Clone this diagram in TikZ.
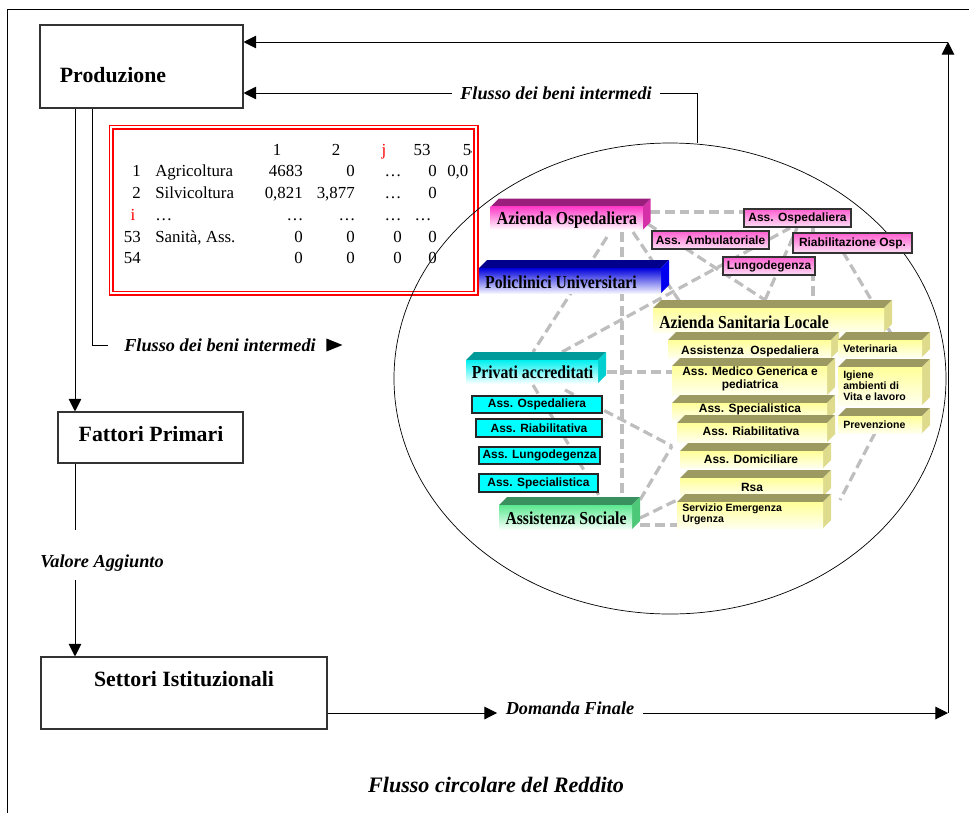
\documentclass[tikz,border=0pt]{standalone}
\usepackage{fontspec}
\setmainfont{Liberation Serif}
\newfontfamily\wafont[FakeStretch=0.86]{Liberation Serif}
\newfontfamily\arialfont{Liberation Sans}
\usetikzlibrary{arrows.meta,shapes.geometric}

\definecolor{magtop}{HTML}{9A1E7C}
\definecolor{magfront}{HTML}{FF3CC8}
\definecolor{maglow}{HTML}{FFFFFF}
\definecolor{magside}{HTML}{D630A8}
\definecolor{blutop}{HTML}{00008C}
\definecolor{blufront}{HTML}{0000DC}
\definecolor{blulow}{HTML}{F2F2FF}
\definecolor{bluside}{HTML}{0000F0}
\definecolor{giatop}{HTML}{9C9A60}
\definecolor{giafront}{HTML}{FFFF99}
\definecolor{gialow}{HTML}{FFFFEE}
\definecolor{giaside}{HTML}{DEDC8C}
\definecolor{ciatop}{HTML}{009A9A}
\definecolor{ciafront}{HTML}{00F0F0}
\definecolor{cialow}{HTML}{F4FFFF}
\definecolor{ciaside}{HTML}{00D0D0}
\definecolor{vertop}{HTML}{3A9160}
\definecolor{verfront}{HTML}{5CE890}
\definecolor{verlow}{HTML}{F4FFF8}
\definecolor{verside}{HTML}{4CC878}
\definecolor{rosa}{HTML}{FF5FD0}
\definecolor{rosachiaro}{HTML}{FFE0F5}
\definecolor{ciano}{HTML}{00FFFF}
\definecolor{grigiorete}{HTML}{BEBEBE}

% blocco in rilievo: colori, nome, angolo alto-sinistra, angolo basso-destra
\newcommand{\blocco}[6]{%
  \fill[#1top] (#3,#4) -- ++(8,-8) -- ({#5+8},{#4-8}) -- (#5,#4) -- cycle;
  \fill[#1side] (#5,#4) -- ({#5+8},{#4-8}) -- ({#5+8},{#6-8}) -- (#5,#6) -- cycle;
  \shade[top color=#1front, bottom color=#1low] (#3,#4) rectangle (#5,#6);
  \coordinate (#2) at ({(#3+#5)/2},{(#4+#6)/2});
}

\tikzset{
  riquadro/.style={draw=black!80, line width=0.75pt, inner sep=0pt},
  filo/.style={line width=0.7pt},
  freccia/.style={line width=0.7pt, -{Triangle[length=9pt,width=9pt]}},
  flusso/.style={font=\fontsize{13}{15}\selectfont\bfseries\itshape, inner sep=6pt},
  titolo/.style={font=\fontsize{15.5}{18}\selectfont\bfseries},
  rete/.style={draw=grigiorete, line width=2.3pt, dash pattern=on 7pt off 3.5pt},
  scritta3d/.style={font=\wafont\fontsize{13}{15}\selectfont\bfseries, anchor=base, inner sep=0pt},
  etichetta/.style={font=\arialfont\fontsize{8.5}{9.2}\selectfont\bfseries, inner sep=0pt},
  piccola/.style={font=\arialfont\fontsize{7.5}{7.8}\selectfont\bfseries, inner sep=0pt, align=left},
  tastorosa/.style={draw=black!80, line width=1.1pt, top color=rosa, bottom color=rosachiaro,
    inner sep=0pt, font=\arialfont\fontsize{8.5}{10}\selectfont\bfseries},
  tastociano/.style={draw=black!85, line width=1.1pt, fill=ciano,
    inner sep=0pt, font=\arialfont\fontsize{8.5}{10}\selectfont\bfseries},
  cella/.style={inner sep=0pt, font=\fontsize{12}{14}\selectfont},
}

\begin{document}
\begin{tikzpicture}[x=0.025cm, y=-0.025cm]
  \useasboundingbox (0,0) rectangle (969,812);
  \draw[filo] (7,830) -- (7,9) -- (990,9);

  % tabella input-output
  \draw[red, line width=1pt] (109.5,125.5) rectangle (478,295);
  \draw[red, line width=1pt] (113,129) rectangle (474,291.5);
  \begin{scope}
    \clip (113,129) rectangle (471.5,291.5);
    \foreach \x/\t [count=\k] in {277/1,336/2,422/53}
      \node[cella, anchor=base] (int\k) at (\x,155.5) {\t};
    \node[cella, anchor=base west] (int4) at (462.5,155.5) {54};
    \node[cella, anchor=base, text=red] (intj) at (384,155.5) {j};
    \foreach \y/\n/\s [count=\k] in {176.5/1/Agricoltura, 198/2/Silvicoltura, 242/53/{Sanità, Ass.}, 263.5/54/{}} {
      \node[cella, anchor=base east] (num\k) at (141,\y) {\n};
      \node[cella, anchor=base west] (voce\k) at (155,\y) {\s};
    }
    \node[cella, anchor=base, text=red] (rigai) at (133,220) {i};
    \node[cella, anchor=base west] (vocei) at (155,220) {…};
    \foreach \y/\a/\b/\d [count=\k] in {176.5/4683/0/0, 198/{0,821}/{3,877}/0, 242/0/0/0, 263.5/0/0/0} {
      \node[cella, anchor=base east] (ca\k) at (303,\y) {\a};
      \node[cella, anchor=base east] (cb\k) at (355,\y) {\b};
      \node[cella, anchor=base east] (cd\k) at (437,\y) {\d};
    }
    \foreach \y [count=\k] in {176.5,198}
      \node[cella, anchor=base] (cj\k) at (393,\y) {…};
    \foreach \y [count=\k] in {242,263.5}
      \node[cella, anchor=base east] (cz\k) at (402,\y) {0};
    \foreach \x [count=\k] in {295,347,393,423}
      \node[cella, anchor=base] (pun\k) at (\x,220) {…};
    \node[cella, anchor=base west] (coda) at (447,176.5) {0,0};
  \end{scope}

  % ellisse della sanita
  \node[draw, ellipse, line width=0.5pt, inner sep=0pt, minimum width=552*0.025cm,
    minimum height=471*0.025cm] (mercato) at (670,378.5) {};

  % circuito del reddito
  \node[riquadro, minimum width=203*0.025cm, minimum height=83*0.025cm] (prod) at (141.5,66.5) {};
  \node[titolo] (prodtxt) at (113,75) {Produzione};
  \node[riquadro, minimum width=185*0.025cm, minimum height=51*0.025cm] (fatt) at (150.5,437.5) {};
  \node[titolo] (fatttxt) at (151,434) {Fattori Primari};
  \node[riquadro, minimum width=286*0.025cm, minimum height=72*0.025cm] (sett) at (184,693) {};
  \node[titolo] (setttxt) at (184,679) {Settori Istituzionali};

  \coordinate (asse) at (75,300);
  \coordinate (ramo) at (92,345);
  \coordinate (va1) at (75,530);
  \coordinate (va2) at (75,580);
  \coordinate (nord) at (948,42);
  \coordinate (sud) at (948,713);
  \coordinate (presa) at (697,93);

  \node[flusso] (fbi1) at (556,93) {Flusso dei beni intermedi};
  \draw[freccia] (fbi1.west) -- (fbi1.west -| prod.east);
  \draw[filo] (fbi1.east) -- (presa) -- (presa |- mercato.north);

  \draw[freccia] (asse |- prod.south) -- (asse |- fatt.north);
  \draw[filo] (ramo |- prod.south) -- (ramo) -- ++(16,0);
  \node[flusso] (fbi2) at (220,345) {Flusso dei beni intermedi};
  \fill ([shift={(2,-6.5)}]fbi2.east) -- ([shift={(18,0)}]fbi2.east) -- ([shift={(2,6.5)}]fbi2.east) -- cycle;

  \draw[filo] (asse |- fatt.south) -- (va1);
  \node[flusso] (valore) at (102,563) {Valore Aggiunto};
  \draw[freccia] (va2) -- (asse |- sett.north);

  \node[flusso] (domanda) at (570,708) {Domanda Finale};
  \draw[freccia] (sett.east |- sud) -- (domanda.west |- sud);
  \draw[freccia] (domanda.east |- sud) -- (sud);
  \draw[freccia] (sud) -- (nord);
  \draw[freccia] (nord) -- (nord -| prod.east);

  \node[font=\fontsize{15.7}{18}\selectfont\bfseries\itshape] (titolo) at (496,785) {Flusso circolare del Reddito};

  % rete tratteggiata
  \coordinate (aoE) at (650,212);
  \coordinate (oaW) at (744,212);
  \coordinate (aoS1) at (622,232);
  \coordinate (asN1) at (622,502);
  \coordinate (aoS2) at (633,232);
  \coordinate (aslN0) at (680,302);
  \coordinate (aoR) at (648,224);
  \coordinate (aslN1) at (765,300);
  \coordinate (oaS0) at (797,228);
  \coordinate (aoS3) at (607,237);
  \coordinate (paN1) at (533,352);
  \coordinate (paN2) at (562,352);
  \coordinate (oaS1) at (790,228);
  \coordinate (oaS2) at (813,227);
  \coordinate (aslN2) at (813,302);
  \coordinate (roS) at (843,252);
  \coordinate (aslE) at (892,335);
  \coordinate (paE) at (607,372);
  \coordinate (medW) at (672,372);
  \coordinate (paS) at (565,390);
  \coordinate (domW) at (672,446);
  \coordinate (asE1) at (640,500);
  \coordinate (asE2) at (640,518);
  \coordinate (serW1) at (677,500);
  \coordinate (asE3) at (640,525);
  \coordinate (serW2) at (677,525);
  \coordinate (paW) at (533,385);
  \coordinate (asN2) at (603,502);
  \coordinate (prevS) at (875,433);
  \coordinate (serE) at (840,500);
  \foreach \a/\b in {aoE/oaW, aoS1/asN1, aoS2/aslN0, aoR/aslN1, aslN1/oaS0, aoS3/paN1, paN2/oaS1,
      oaS2/aslN2, roS/aslE, paE/medW, paS/domW, asE1/domW, asE2/serW1, asE3/serW2, paW/asN2, prevS/serE}
    \draw[rete] (\a) -- (\b);

  % blocchi in rilievo
  \blocco{mag}{ao}{490.7}{206.7}{642.7}{230}
  \blocco{blu}{pu}{479}{268}{661}{293}
  \blocco{gia}{asl}{653}{308}{884}{332}
  \blocco{gia}{aos}{668}{340}{831}{358}
  \blocco{gia}{med}{672}{366}{827}{395}
  \blocco{gia}{spe}{672}{403}{827}{420}
  \blocco{gia}{ria}{677}{423}{827}{442}
  \blocco{gia}{domi}{680}{451}{823}{468}
  \blocco{gia}{rsa}{680}{478}{823}{496}
  \blocco{gia}{ser}{677}{502}{823}{528}
  \blocco{gia}{vet}{838}{340}{922}{357}
  \blocco{gia}{igi}{838}{367}{922}{405}
  \blocco{gia}{pre}{838}{416}{922}{433}
  \blocco{cia}{pa}{466}{360}{598}{383}
  \blocco{ver}{as}{499}{505}{632}{529}

  \node[scritta3d] (aotxt) at (567,224) {Azienda Ospedaliera};
  \node[scritta3d] (putxt) at (561,288) {Policlinici Universitari};
  \node[scritta3d] (asltxt) at (744,328) {Azienda Sanitaria Locale};
  \node[scritta3d] (patxt) at (532.5,378) {Privati accreditati};
  \node[scritta3d] (astxt) at (566,524) {Assistenza Sociale};

  \node[etichetta, anchor=base] (aostxt) at (750,354) {Assistenza\ \ Ospedaliera};
  \node[etichetta, align=center] (medtxt) at (750,379) {Ass. Medico Generica e\\pediatrica};
  \node[etichetta, anchor=base] (spetxt) at (750,412) {Ass. Specialistica};
  \node[etichetta, anchor=base] (riatxt) at (751,435) {Ass. Riabilitativa};
  \node[etichetta, anchor=base] (domitxt) at (751,463) {Ass. Domiciliare};
  \node[etichetta, anchor=base] (rsatxt) at (752,491) {Rsa};
  \node[piccola, anchor=north west] (sertxt) at (682,504) {Servizio Emergenza\\Urgenza};
  \node[piccola, anchor=base west] (vettxt) at (843,352) {Veterinaria};
  \node[piccola, anchor=north west] (igitxt) at (843,371) {Igiene\\ambienti di\\Vita e lavoro};
  \node[piccola, anchor=base west] (pretxt) at (843,428) {Prevenzione};

  % riquadri piatti
  \foreach \n/\x/\y/\w/\h/\t in {paosp/797.5/218/107/18/Ass. Ospedaliera, pamb/710.5/240/117/18/Ass. Ambulatoriale,
      priab/852.5/243/119/20/Riabilitazione Osp., plung/769/266/92/18/Lungodegenza}
    \node[tastorosa, minimum width=\w*0.025cm, minimum height=\h*0.025cm] (\n) at (\x,\y) {\t};
  \foreach \n/\x/\y/\w/\t in {cosp/537/404.5/130/Ass. Ospedaliera, criab/539/428/126/Ass. Riabilitativa,
      clung/539.5/455.5/121/Ass. Lungodegenza, cspec/538.5/483/119/Ass. Specialistica}
    \node[tastociano, minimum width=\w*0.025cm, minimum height=17.5*0.025cm] (\n) at (\x,\y) {\t};
\end{tikzpicture}
\end{document}
